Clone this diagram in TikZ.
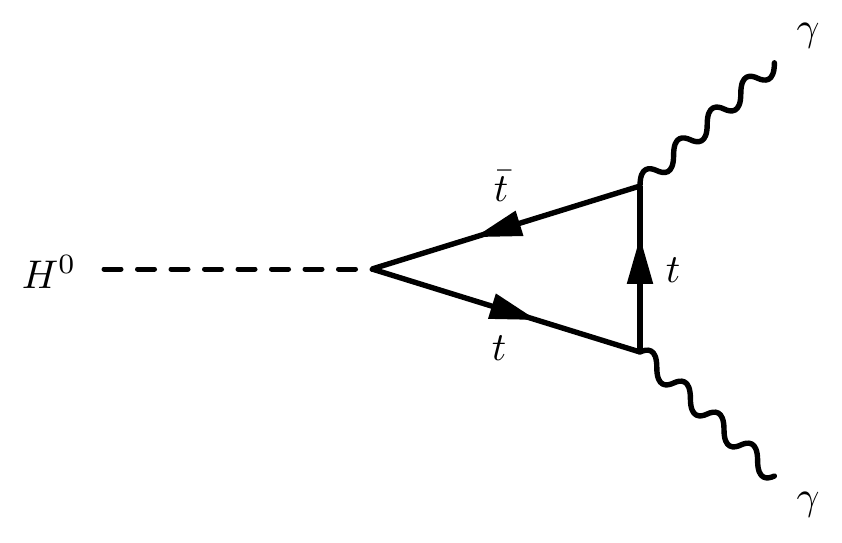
\documentclass[tikz,border=0pt]{standalone}
\usetikzlibrary{arrows.meta,decorations.markings}
\tikzset{
  x=1pt,y=-1pt,
  line/.style={line width=5.4pt,black},
  scalar/.style={line width=5pt,black,line cap=round,dash pattern=on 17pt off 16.5pt},
  photon/.style={line,line cap=round,line join=round},
  fermion/.style={line,postaction={decorate},decoration={markings,
    mark=at position #1 with {\arrow{Triangle[length=47pt,width=25pt]}}}},
  lab/.style={inner sep=0pt,scale=4}
}
\newcommand{\upwave}{%
  .. controls +(0,-20) and +(-7,-3.3) .. ++(16.8,-15.4)
  .. controls +(7,3.3) and +(0,20) .. ++(16.8,-15.4)}
\newcommand{\downwave}{%
  .. controls +(7,-3.3) and +(0,-20) .. ++(16.8,15.5)
  .. controls +(0,20) and +(-7,3.3) .. ++(16.8,15.5)}
\begin{document}
\begin{tikzpicture}
\useasboundingbox (0,0) rectangle (842,542);
\coordinate (h) at (104,269);
\coordinate (v0) at (372,269);
\coordinate (v1) at (640,186);
\coordinate (v2) at (640,352);
\node[lab] (lh) at (49,272) {$H^0$};
\node[lab] (ltb) at (501,186) {$\bar t$};
\node[lab] (lt1) at (499,348) {$t$};
\node[lab] (lt2) at (673,270) {$t$};
\node[lab] (lg1) at (808,36) {$\gamma$};
\node[lab] (lg2) at (808,505) {$\gamma$};
\draw[scalar] (h) -- (v0);
\draw[fermion=0.617] (v1) -- (v0);
\draw[fermion=0.615] (v0) -- (v2);
\draw[fermion=0.693] (v2) -- (v1);
\draw[photon] (v1) \upwave \upwave \upwave \upwave;
\draw[photon] (v2) \downwave \downwave \downwave \downwave;
\end{tikzpicture}
\end{document}
